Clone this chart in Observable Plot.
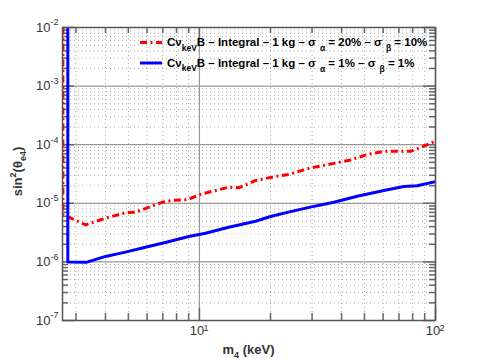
<!DOCTYPE html>
<html>
<head>
<meta charset="utf-8">
<script src="https://cdn.jsdelivr.net/npm/d3@7"></script>
<script src="https://cdn.jsdelivr.net/npm/@observablehq/plot@0.6"></script>
<style>
html,body{margin:0;padding:0;background:#fff;}
svg{display:block;}
</style>
</head>
<body>
<div id="chart"></div>
<script>
// ---- data ----
const redX = [2.64, 2.64, 3.3, 4.0, 4.86, 5.36, 6.95, 7.66, 8.87, 10.27, 13.3, 14.7, 17.3, 21.3, 23.5, 29.5, 37.1, 43.6, 51.4, 60.4, 78.4, 89.2, 100];
const redY = [1e-2, 6.4e-6, 4.3e-6, 5.57e-6, 6.9e-6, 7.05e-6, 1.04e-5, 1.12e-5, 1.15e-5, 1.45e-5, 1.88e-5, 1.84e-5, 2.45e-5, 2.9e-5, 3.06e-5, 4.0e-5, 4.8e-5, 5.5e-5, 6.8e-5, 7.7e-5, 7.7e-5, 9.4e-5, 1.15e-4];
const blueX = [2.77, 2.77, 3.34, 4.0, 4.86, 5.90, 7.17, 9.01, 10.6, 13.3, 17.3, 20.0, 24.3, 29.5, 37.1, 46.6, 60.4, 73.5, 83.6, 100];
const blueY = [1e-2, 1.0e-6, 0.99e-6, 1.24e-6, 1.47e-6, 1.78e-6, 2.14e-6, 2.71e-6, 3.09e-6, 3.9e-6, 4.95e-6, 5.95e-6, 7.2e-6, 8.6e-6, 1.04e-5, 1.32e-5, 1.65e-5, 1.94e-5, 1.99e-5, 2.35e-5];

const xDomain = [2.63, 100];
const yDomain = [1e-7, 1e-2];
const xMajor = [10, 100];
const xMinor = [3, 4, 5, 6, 7, 8, 9, 20, 30, 40, 50, 60, 70, 80, 90];
const yMajor = [1e-7, 1e-6, 1e-5, 1e-4, 1e-3, 1e-2];
const yMinor = [];
for (const d of [1e-7, 1e-6, 1e-5, 1e-4, 1e-3]) for (const k of [2, 3, 4, 5, 6, 7, 8, 9]) yMinor.push(k * d);

const seriesLabels = [
  {color: "#ff0000", dash: "7 3.5 2 3.5", sa: "20%", sb: "10%"},
  {color: "#0000ff", dash: null, sa: "1%", sb: "1%"}
];
const xTitle = ["m", "4", " (keV)"];
const yTitle = ["sin", "2", "(θ", "e4", ")"];

const red = redX.map((x, i) => ({x, y: redY[i]}));
const blue = blueX.map((x, i) => ({x, y: blueY[i]}));

const W = 480, H = 361, mL = 62, mR = 45, mT = 27, mB = 41;
const fW = W - mL - mR, fH = H - mT - mB;
const font = "'Liberation Sans', Arial, Helvetica, sans-serif";
const tickC = "#666";

const svg = Plot.plot({
  width: W, height: H,
  marginLeft: mL, marginRight: mR, marginTop: mT, marginBottom: mB,
  style: {fontFamily: font, background: "#fff"},
  x: {type: "log", domain: xDomain, axis: null},
  y: {type: "log", domain: yDomain, axis: null},
  marks: [
    // minor grid (dotted)
    Plot.ruleX(xMinor, {stroke: "#aaa", strokeDasharray: "1 3", strokeWidth: 1}),
    Plot.ruleY(yMinor, {stroke: "#aaa", strokeDasharray: "1 3", strokeWidth: 1}),
    // major grid (solid)
    Plot.ruleX(xMajor, {stroke: "#999", strokeWidth: 1.2}),
    Plot.ruleY(yMajor, {stroke: "#999", strokeWidth: 1.2}),
    // ticks
    Plot.ruleX(xMinor, {stroke: tickC, strokeWidth: 1.5, insetTop: fH - 7}),
    Plot.ruleX(xMinor, {stroke: tickC, strokeWidth: 1.5, insetBottom: fH - 6}),
    Plot.ruleX(xMajor, {stroke: tickC, strokeWidth: 1.5, insetTop: fH - 12}),
    Plot.ruleX(xMajor, {stroke: tickC, strokeWidth: 1.5, insetBottom: fH - 12}),
    Plot.ruleY(yMinor, {stroke: tickC, strokeWidth: 1.5, insetRight: fW - 6}),
    Plot.ruleY(yMinor, {stroke: tickC, strokeWidth: 1.5, insetLeft: fW - 6}),
    Plot.ruleY(yMajor, {stroke: tickC, strokeWidth: 1.5, insetRight: fW - 12}),
    Plot.ruleY(yMajor, {stroke: tickC, strokeWidth: 1.5, insetLeft: fW - 12}),
    // curves
    Plot.line(red, {x: "x", y: "y", stroke: seriesLabels[0].color, strokeWidth: 3, strokeDasharray: seriesLabels[0].dash, strokeLinecap: "butt", clip: true}),
    Plot.line(blue, {x: "x", y: "y", stroke: seriesLabels[1].color, strokeWidth: 3, clip: true}),
    Plot.frame({stroke: "#555", strokeWidth: 1.5}),
    // y tick labels
    Plot.text(yMajor, {y: d => d, frameAnchor: "left", text: () => "10", textAnchor: "end", dx: -12, fontSize: 13, fill: "#333"}),
    Plot.text(yMajor, {y: d => d, frameAnchor: "left", text: d => "-" + Math.round(-Math.log10(d)), textAnchor: "end", dx: -4, dy: -5, fontSize: 9, fill: "#333"}),
    // x tick labels
    Plot.text(xMajor, {x: d => d, frameAnchor: "bottom", text: () => "10", dx: -2.5, dy: 14, fontSize: 13, fill: "#333"}),
    Plot.text(xMajor, {x: d => d, frameAnchor: "bottom", text: d => String(Math.round(Math.log10(d))), dx: 6.5, dy: 10, fontSize: 9, fill: "#333"})
  ]
});

const s = d3.select(svg);
// axis titles
const xt = s.append("text").attr("x", mL + fW / 2).attr("y", 354).attr("text-anchor", "middle")
  .attr("font-size", 13).attr("font-weight", "bold").attr("fill", "#333").attr("font-family", font);
xt.append("tspan").text(xTitle[0]);
xt.append("tspan").attr("dy", 4).attr("font-size", 9).text(xTitle[1]);
xt.append("tspan").attr("dy", -4).text(xTitle[2]);

const yt = s.append("text").attr("transform", `translate(22,${mT + fH / 2 - 2}) rotate(-90)`).attr("text-anchor", "middle")
  .attr("font-size", 13).attr("font-weight", "bold").attr("fill", "#333").attr("font-family", font);
yt.append("tspan").text(yTitle[0]);
yt.append("tspan").attr("dy", -6).attr("font-size", 9).text(yTitle[1]);
yt.append("tspan").attr("dy", 6).text(yTitle[2]);
yt.append("tspan").attr("dy", 4).attr("font-size", 9).text(yTitle[3]);
yt.append("tspan").attr("dy", -4).text(yTitle[4]);

// legend
seriesLabels.forEach((L, i) => {
  const cy = 42.5 + i * 20.5;
  s.append("line").attr("x1", 140).attr("x2", 162).attr("y1", cy).attr("y2", cy)
    .attr("stroke", L.color).attr("stroke-width", 3).attr("stroke-dasharray", L.dash);
  const t = s.append("text").attr("x", 167).attr("y", cy + 3.5).attr("font-size", 11.5)
    .attr("text-anchor", "start")
    .attr("font-weight", "bold").attr("fill", "#000").attr("font-family", font);
  t.append("tspan").text("Cν");
  t.append("tspan").attr("dy", 4.5).attr("font-size", 8.5).text("keV");
  t.append("tspan").attr("dy", -4.5).text("B – Integral – 1 kg – σ");
  t.append("tspan").attr("dx", 4).attr("dy", 5).attr("font-size", 8.5).text("α");
  t.append("tspan").attr("dy", -5).text(" = " + L.sa + " – σ");
  t.append("tspan").attr("dx", 4).attr("dy", 5).attr("font-size", 8.5).text("β");
  t.append("tspan").attr("dy", -5).text(" = " + L.sb);
});

document.getElementById("chart").appendChild(svg);
</script>
</body>
</html>
